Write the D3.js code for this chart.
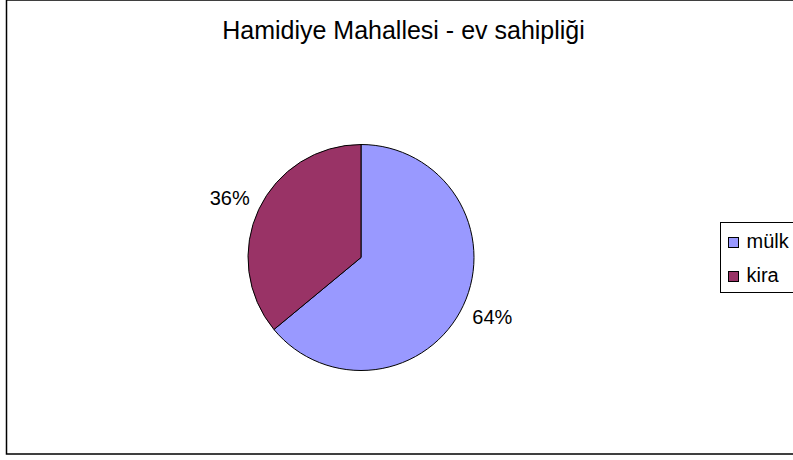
<!DOCTYPE html>
<html>
<head>
<meta charset="utf-8">
<script src="https://cdn.jsdelivr.net/npm/d3@7"></script>
<style>
  body { margin: 0; background: #fff; }
  text { font-family: "Liberation Sans", Arial, sans-serif; fill: #000; }
</style>
</head>
<body>
<svg width="793" height="460"></svg>
<script>
const categories = ['mülk', 'kira'];
const values = [64, 36];
const colors = ['#9999ff', '#993366'];
const title = 'Hamidiye Mahallesi - ev sahipliği';

const svg = d3.select('svg');

// chart area frame
svg.append('rect')
    .attr('x', 6.5)
    .attr('y', 0)
    .attr('width', 820)
    .attr('height', 454)
    .attr('fill', '#fff')
    .attr('stroke', '#000')
    .attr('stroke-width', 1.5);

svg.append('text')
    .attr('x', 403.5)
    .attr('y', 39)
    .attr('text-anchor', 'middle')
    .style('font-size', '25px')
    .text(title);

const cx = 361, cy = 257.5, radius = 113;

const pie = d3.pie().sort(null).value((d) => d);
const arcs = pie(values);

const arc = d3.arc().innerRadius(0).outerRadius(radius);
const labelArc = d3.arc().innerRadius(radius + 10).outerRadius(radius + 10);

const chart = svg.append('g')
    .attr('transform', `translate(${cx}, ${cy})`);

chart.selectAll('path')
    .data(arcs)
    .enter()
    .append('path')
    .attr('d', arc)
    .attr('fill', (d, i) => colors[i])
    .attr('stroke', '#000')
    .attr('stroke-width', 1);

chart.selectAll('.label')
    .data(arcs)
    .enter()
    .append('text')
    .attr('class', 'label')
    .attr('transform', (d) => `translate(${labelArc.centroid(d)})`)
    .attr('text-anchor', (d) => labelArc.centroid(d)[0] < 0 ? 'end' : 'start')
    .attr('dy', (d) => labelArc.centroid(d)[1] < 0 ? '0' : '0.72em')
    .style('font-size', '20px')
    .text((d) => `${d.data}%`);

// legend
const legend = svg.append('g')
    .attr('transform', 'translate(720.5, 222.5)');

legend.append('rect')
    .attr('width', 100)
    .attr('height', 70)
    .attr('fill', '#fff')
    .attr('stroke', '#000')
    .attr('stroke-width', 1);

const items = legend.selectAll('.item')
    .data(categories)
    .enter()
    .append('g')
    .attr('class', 'item')
    .attr('transform', (d, i) => `translate(8, ${15 + i * 34})`);

items.append('rect')
    .attr('width', 10)
    .attr('height', 10)
    .attr('fill', (d, i) => colors[i])
    .attr('stroke', '#000')
    .attr('stroke-width', 1);

items.append('text')
    .attr('x', 18)
    .attr('y', 10)
    .style('font-size', '20px')
    .text((d) => d);
</script>
</body>
</html>
